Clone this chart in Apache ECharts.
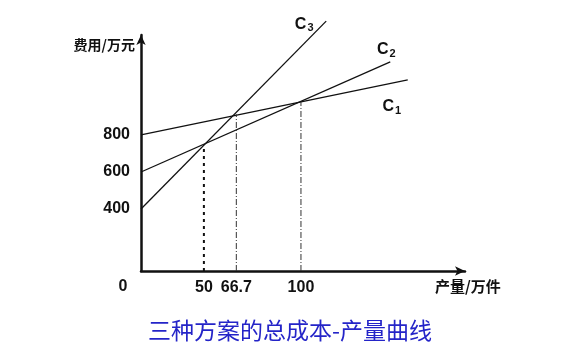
<!DOCTYPE html>
<html>
<head>
    <meta charset="utf-8"/>
    <title>总成本-产量曲线</title>
    <script src="https://cdn.jsdelivr.net/npm/echarts@6/dist/echarts.min.js"></script>
    <style>
        html, body { margin: 0; padding: 0; background: #fff; }
    </style>
</head>
<body>
<div id="main" style="width: 561px;height:354px;"></div>
<script type="text/javascript">
    // 横轴刻度（产量/万件）
    var xTicks = [50, 66.7, 100];
    // 纵轴刻度（费用/万元）
    var yTicks = [400, 600, 800];
    // 坐标轴起点：示意图并非从 0 开始按比例绘制
    var xStart = 17.6;
    var yStart = 65;
    // 三种方案的成本线（起点、终点）
    var c1 = [[xStart, 800], [155, 1098]];
    var c2 = [[xStart, 600], [146, 1195]];
    var c3 = [[xStart, 400], [113, 1415]];
    // 交点处的垂线高度
    var dropTops = [745, 912, 978];

    var myChart = echarts.init(document.getElementById('main'));

    var axisFont = {
        fontFamily: 'Liberation Sans, Arial',
        fontWeight: 'bold',
        fontSize: 16,
        color: '#111'
    };

    function costLine(name, pts, labelText, offset) {
        return {
            name: name,
            type: 'line',
            clip: false,
            symbol: 'circle',
            symbolSize: 0,
            lineStyle: { color: '#111', width: 1.3 },
            itemStyle: { color: '#111' },
            data: [
                pts[0],
                {
                    value: pts[1],
                    label: {
                        show: true,
                        position: 'inside',
                        offset: offset,
                        formatter: labelText,
                        rich: {
                            c: { fontFamily: 'Liberation Sans, Arial', fontWeight: 'bold', fontSize: 16, color: '#111' },
                            s: { fontFamily: 'Liberation Sans, Arial', fontWeight: 'bold', fontSize: 11, color: '#111', padding: [8, 0, 0, 1] }
                        }
                    }
                }
            ]
        };
    }

    function dropLine(x, top, style) {
        return {
            type: 'line',
            symbol: 'none',
            silent: true,
            lineStyle: style,
            data: [[x, yStart], [x, top]]
        };
    }

    var option = {
        animation: false,
        backgroundColor: '#fff',
        grid: { left: 141, right: 96, top: 35, bottom: 83 },
        xAxis: {
            type: 'value',
            min: xStart,
            max: 184.5,
            splitLine: { show: false },
            axisTick: { show: false },
            axisLine: {
                lineStyle: { color: '#111', width: 2.5 },
                symbol: ['none', 'arrow'],
                symbolSize: [7, 10]
            },
            axisLabel: Object.assign({
                customValues: xTicks,
                margin: 9,
                formatter: function (v) { return String(v); }
            }, axisFont)
        },
        yAxis: {
            type: 'value',
            min: yStart,
            max: 1340,
            splitLine: { show: false },
            axisTick: { show: false },
            axisLine: {
                lineStyle: { color: '#111', width: 2.5 },
                symbol: ['none', 'arrow'],
                symbolSize: [7, 10]
            },
            axisLabel: Object.assign({
                customValues: yTicks,
                margin: 11
            }, axisFont)
        },
        series: [
            costLine('C1', c1, '{c|C}{s|1}', [-16, 27]),
            costLine('C2', c2, '{c|C}{s|2}', [-4, -12]),
            costLine('C3', c3, '{c|C}{s|3}', [-22, 3]),
            dropLine(xTicks[0], dropTops[0], { color: '#111', width: 2, type: [3, 4] }),
            dropLine(xTicks[1], dropTops[1], { color: '#333', width: 1, type: [6, 2, 1, 2] }),
            dropLine(xTicks[2], dropTops[2], { color: '#333', width: 1, type: [6, 2, 1, 2] })
        ],
        graphic: [
            {
                type: 'text', x: 123, y: 287,
                style: { text: '0', align: 'center', verticalAlign: 'middle', font: 'bold 16px "Liberation Sans", Arial', fill: '#111' }
            },
            {
                type: 'text', x: 135, y: 45,
                style: { text: '费用/万元', align: 'right', verticalAlign: 'middle', font: 'bold 14px "Noto Sans CJK SC"', fill: '#111' }
            },
            {
                type: 'text', x: 435, y: 286,
                style: { text: '产量/万件', align: 'left', verticalAlign: 'middle', font: 'bold 15px "Noto Sans CJK SC"', fill: '#111' }
            },
            {
                type: 'text', x: 290, y: 330,
                style: { text: '三种方案的总成本-产量曲线', align: 'center', verticalAlign: 'middle', font: '23px "Noto Sans CJK SC"', fill: '#2424c8' }
            }
        ]
    };

    myChart.setOption(option);
</script>
</body>
</html>
